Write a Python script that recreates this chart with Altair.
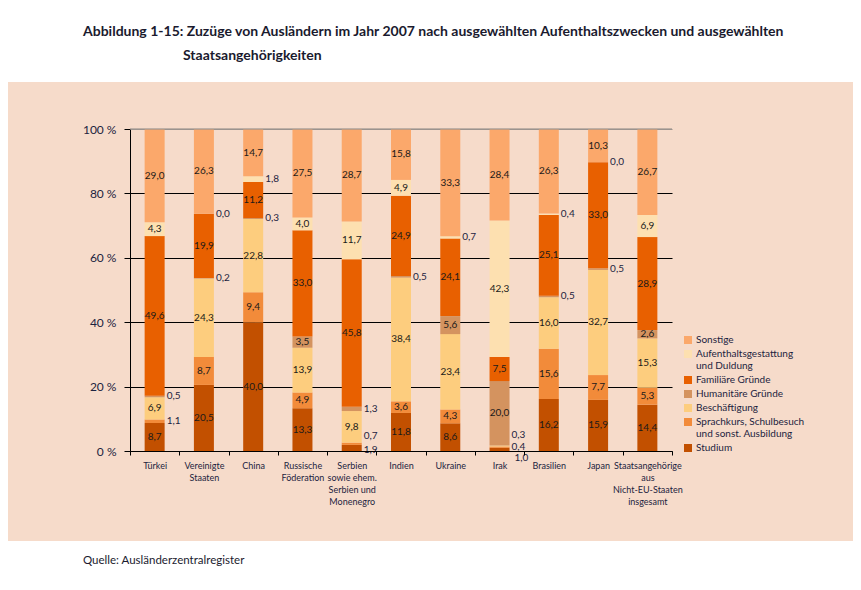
import altair as alt
import pandas as pd

# ---------------- data ----------------
countries = [
    "Türkei",
    "Vereinigte\nStaaten",
    "China",
    "Russische\nFöderation",
    "Serbien\nsowie ehem.\nSerbien und\nMonenegro",
    "Indien",
    "Ukraine",
    "Irak",
    "Brasilien",
    "Japan",
    "Staatsangehörige\naus\nNicht-EU-Staaten\ninsgesamt",
]

# stacking order, bottom -> top
purposes = [
    "Studium",
    "Sprachkurs, Schulbesuch\nund sonst. Ausbildung",
    "Beschäftigung",
    "Humanitäre Gründe",
    "Familiäre Gründe",
    "Aufenthaltsgestattung\nund Duldung",
    "Sonstige",
]

studium        = [8.7, 20.5, 40.0, 13.3, 1.9, 11.8, 8.6, 1.0, 16.2, 15.9, 14.4]
sprachkurs     = [1.1, 8.7, 9.4, 4.9, 0.7, 3.6, 4.3, 0.4, 15.6, 7.7, 5.3]
beschaeftigung = [6.9, 24.3, 22.8, 13.9, 9.8, 38.4, 23.4, 0.3, 16.0, 32.7, 15.3]
humanitaer     = [0.5, 0.2, 0.3, 3.5, 1.3, 0.5, 5.6, 20.0, 0.5, 0.5, 2.6]
familiaer      = [49.6, 19.9, 11.2, 33.0, 45.8, 24.9, 24.1, 7.5, 25.1, 33.0, 28.9]
aufenthalt     = [4.3, 0.0, 1.8, 4.0, 11.7, 4.9, 0.7, 42.3, 0.4, 0.0, 6.9]
sonstige       = [29.0, 26.3, 14.7, 27.5, 28.7, 15.8, 33.3, 28.4, 26.3, 10.3, 26.7]

purpose_colors = ["#C25000", "#F28B3A", "#FDCD7E", "#D4935F", "#E86000", "#FDE0B0", "#FBA86B"]

y_ticks = [0, 0.2, 0.4, 0.6, 0.8, 1.0]

title_line1 = "Abbildung 1-15: Zuzüge von Ausländern im Jahr 2007 nach ausgewählten Aufenthaltszwecken und ausgewählten"
title_line2 = "Staatsangehörigkeiten"
source_text = "Quelle: Ausländerzentralregister"

series = [studium, sprachkurs, beschaeftigung, humanitaer, familiaer, aufenthalt, sonstige]
rows = []
for pi, (p, vals) in enumerate(zip(purposes, series)):
    for ci, c in enumerate(countries):
        rows.append({"country": c, "purpose": p, "order": pi, "value": vals[ci]})
df = pd.DataFrame(rows)

# ---------------- style ----------------
FONT = "Lato, 'Open Sans', sans-serif"
TXT = "#1c2340"
PEACH = "#F6DBCA"
W, H = 542, 322

legend_domain = purposes[::-1]
legend_range = purpose_colors[::-1]

base = (
    alt.Chart(df)
    .transform_stack(
        stack="value",
        as_=["y0", "y1"],
        groupby=["country"],
        sort=[alt.SortField("order", "ascending")],
        offset="normalize",
    )
    .transform_calculate(
        mid="(datum.y0 + datum.y1) / 2",
        lab="replace(format(datum.value, '.1f'), '.', ',')",
    )
)

x_enc = alt.X(
    "country:N",
    sort=countries,
    scale=alt.Scale(paddingInner=0, paddingOuter=0),
    axis=alt.Axis(
        title=None,
        labelAngle=0,
        labelExpr="split(datum.label, '\\n')",
        tickBand="extent",
        tickSize=4,
        tickColor="#000",
        domainColor="#000",
        labelFont=FONT,
        labelFontSize=9,
        labelColor=TXT,
        labelPadding=6,
        labelLineHeight=12,
        labelBaseline="top",
        zindex=1,
    ),
)

bars = base.mark_bar(width=20).encode(
    x=x_enc,
    y=alt.Y(
        "y0:Q",
        scale=alt.Scale(domain=[0, 1]),
        axis=alt.Axis(
            title=None,
            values=y_ticks,
            labelExpr="format(datum.value * 100, 'd') + ' %'",
            grid=True,
            gridColor=alt.condition("datum.value == 1", alt.value("#9c948e"), alt.value("#000")),
            gridWidth=1,
            domainColor="#000",
            tickColor="#000",
            tickSize=6,
            labelFont=FONT,
            labelFontSize=12,
            labelColor=TXT,
            labelPadding=8,
        ),
    ),
    y2="y1:Q",
    color=alt.Color(
        "purpose:N",
        scale=alt.Scale(domain=legend_domain, range=legend_range),
        legend=alt.Legend(
            title=None,
            orient="none",
            legendX=553,
            legendY=206,
            symbolType="square",
            symbolSize=64,
            symbolStrokeWidth=0,
            labelExpr="split(datum.label, '\\n')",
            labelFont=FONT,
            labelFontSize=10,
            labelColor=TXT,
            labelOffset=3,
            rowPadding=4,
            padding=0,
        ),
    ),
    order=alt.Order("order:Q"),
)

top_line = alt.Chart(pd.DataFrame({"v": [1.0]})).mark_rule(color="#9c948e", strokeWidth=1.5, opacity=0.8).encode(y="v:Q")

inside = base.transform_filter("datum.value >= 2.5").mark_text(
    font=FONT, fontSize=10, color="#1a1a1a", baseline="middle"
).encode(x=alt.X("country:N", sort=countries), y="mid:Q", text="lab:N")

# small labels placed to the right of the bar; a few nudged to avoid overlaps
SER = "Serbien\nsowie ehem.\nSerbien und\nMonenegro"
nudges = {
    (SER, "Sprachkurs, Schulbesuch\nund sonst. Ausbildung"): (12, -8),
    (SER, "Studium"): (12, 2),
    ("Irak", "Studium"): (15, 9),
    ("Irak", "Sprachkurs, Schulbesuch\nund sonst. Ausbildung"): (12, 0),
    ("Irak", "Beschäftigung"): (12, -11),
}
special_test = " || ".join(
    f"(datum.country == {c!r} && datum.purpose == {p!r})".replace("\n", "\\n") for (c, p) in nudges
)
outside_layers = [
    base.transform_filter(f"datum.value < 2.5 && !({special_test})").mark_text(
        font=FONT, fontSize=10, color=TXT, align="left", baseline="middle", dx=12
    ).encode(x=alt.X("country:N", sort=countries), y="mid:Q", text="lab:N")
]
for (c, p), (dx, dy) in nudges.items():
    test = f"datum.country == {c!r} && datum.purpose == {p!r}".replace("\n", "\\n")
    outside_layers.append(
        base.transform_filter(test).mark_text(
            font=FONT, fontSize=10, color=TXT, align="left", baseline="middle", dx=dx, dy=dy
        ).encode(x=alt.X("country:N", sort=countries), y="mid:Q", text="lab:N")
    )

one = pd.DataFrame({"k": [0]})
white_top = alt.Chart(one).mark_rect(color="white").encode(
    x=alt.value(-135), x2=alt.value(740), y=alt.value(-135), y2=alt.value(-47)
)
white_bottom = alt.Chart(one).mark_rect(color="white").encode(
    x=alt.value(-135), x2=alt.value(740), y=alt.value(412), y2=alt.value(470)
)
t1 = alt.Chart(one).mark_text(
    font=FONT, fontSize=14, fontWeight="bold", color="#1a1a2e", align="left", baseline="middle"
).encode(x=alt.value(-47), y=alt.value(-97), text=alt.value(title_line1))
t2 = alt.Chart(one).mark_text(
    font=FONT, fontSize=14, fontWeight="bold", color="#1a1a2e", align="left", baseline="middle"
).encode(x=alt.value(53), y=alt.value(-73), text=alt.value(title_line2))
src = alt.Chart(one).mark_text(
    font=FONT, fontSize=11.5, color="#1a1a2e", align="left", baseline="middle"
).encode(x=alt.value(-47), y=alt.value(432), text=alt.value(source_text))

chart = (
    alt.layer(white_top, white_bottom, bars, top_line, inside, *outside_layers, t1, t2, src)
    .properties(
        width=W,
        height=H,
        autosize=alt.AutoSizeParams(type="none"),
        padding={"left": 122, "top": 121, "right": 181, "bottom": 131},
        background=PEACH,
    )
    .configure_view(stroke=None)
)

chart.save("out.html", embed_options={"renderer": "svg", "actions": False})
